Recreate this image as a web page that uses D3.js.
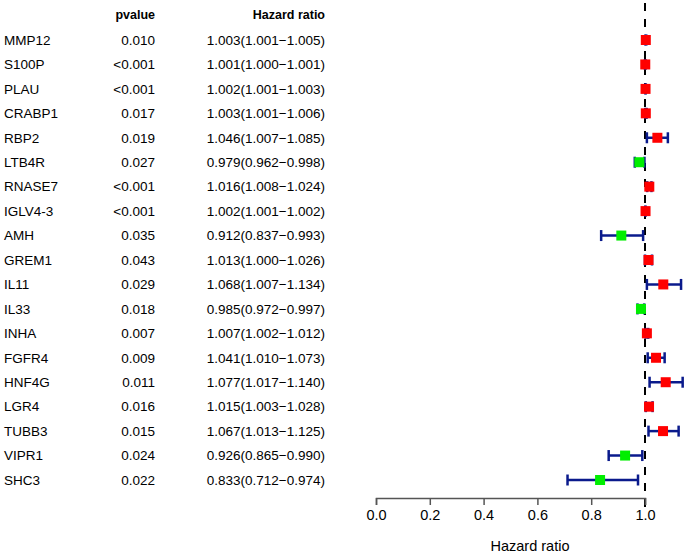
<!DOCTYPE html>
<html><head><meta charset="utf-8">
<script src="https://cdn.jsdelivr.net/npm/d3@7"></script>
<style>body{margin:0;background:#fff}svg{display:block}text{font-family:"Liberation Sans",Arial,sans-serif}</style>
</head><body>
<script>
const genes=["MMP12","S100P","PLAU","CRABP1","RBP2","LTB4R","RNASE7","IGLV4-3","AMH","GREM1","IL11","IL33","INHA","FGFR4","HNF4G","LGR4","TUBB3","VIPR1","SHC3"];
const pvalues=["0.010","<0.001","<0.001","0.017","0.019","0.027","<0.001","<0.001","0.035","0.043","0.029","0.018","0.007","0.009","0.011","0.016","0.015","0.024","0.022"];
const hr=[1.003,1.001,1.002,1.003,1.046,0.979,1.016,1.002,0.912,1.013,1.068,0.985,1.007,1.041,1.077,1.015,1.067,0.926,0.833];
const lower=[1.001,1.000,1.001,1.001,1.007,0.962,1.008,1.001,0.837,1.000,1.007,0.972,1.002,1.010,1.017,1.003,1.013,0.865,0.712];
const upper=[1.005,1.001,1.003,1.006,1.085,0.998,1.024,1.002,0.993,1.026,1.134,0.997,1.012,1.073,1.140,1.028,1.125,0.990,0.974];
const ticks=[0,0.2,0.4,0.6,0.8,1.0];

const W=685,H=553;
const svg=d3.select("body").append("svg").attr("width",W).attr("height",H);
const x=d3.scaleLinear().domain([0,1]).range([376,645]);
const y=d3.scalePoint().domain(genes).range([40,480]);

svg.append("text").attr("x",155).attr("y",19).attr("text-anchor","end").attr("font-weight","bold").attr("font-size",12.5).text("pvalue");
svg.append("text").attr("x",325).attr("y",19).attr("text-anchor","end").attr("font-weight","bold").attr("font-size",12.5).text("Hazard ratio");

const rows=svg.append("g").selectAll("g").data(genes).join("g").attr("transform",d=>`translate(0,${y(d)})`);
rows.append("text").attr("x",4).attr("dy","0.35em").attr("font-size",13.5).text(d=>d);
rows.append("text").attr("x",155).attr("dy","0.35em").attr("text-anchor","end").attr("font-size",13.5).text((d,i)=>pvalues[i]);
rows.append("text").attr("x",325).attr("dy","0.35em").attr("text-anchor","end").attr("font-size",13.5)
  .text((d,i)=>`${hr[i].toFixed(3)}(${lower[i].toFixed(3)}\u2212${upper[i].toFixed(3)})`);

// reference line
svg.append("line").attr("x1",x(1)).attr("x2",x(1)).attr("y1",3).attr("y2",507)
  .attr("stroke","#000").attr("stroke-width",2).attr("stroke-dasharray","8,8");

const ci=svg.append("g");
genes.forEach((g,i)=>{
  const yy=y(g);
  ci.append("line").attr("x1",x(lower[i])).attr("x2",x(upper[i])).attr("y1",yy).attr("y2",yy).attr("stroke","#0a1a8c").attr("stroke-width",2.5);
  [lower[i],upper[i]].forEach(v=>ci.append("line").attr("x1",x(v)).attr("x2",x(v)).attr("y1",yy-5.5).attr("y2",yy+5.5).attr("stroke","#0a1a8c").attr("stroke-width",2.5));
  ci.append("rect").attr("x",x(hr[i])-5).attr("y",yy-5).attr("width",10).attr("height",10).attr("fill",hr[i]>=1?"#ff0000":"#00ee00");
});

const ax=svg.append("g").attr("transform","translate(0,498)")
  .call(d3.axisBottom(x).tickValues(ticks).tickFormat(d3.format(".1f")).tickSize(7).tickPadding(5));
ax.select(".domain").attr("stroke","#555").attr("stroke-width",1.5);
ax.selectAll(".tick line").attr("stroke","#555").attr("stroke-width",1.5);
ax.selectAll(".tick text").attr("font-size",14.5).attr("fill","#000").attr("font-family","Liberation Sans, Arial, sans-serif");
svg.append("text").attr("x",530).attr("y",551).attr("text-anchor","middle").attr("font-size",14.5).text("Hazard ratio");
</script>
</body></html>
